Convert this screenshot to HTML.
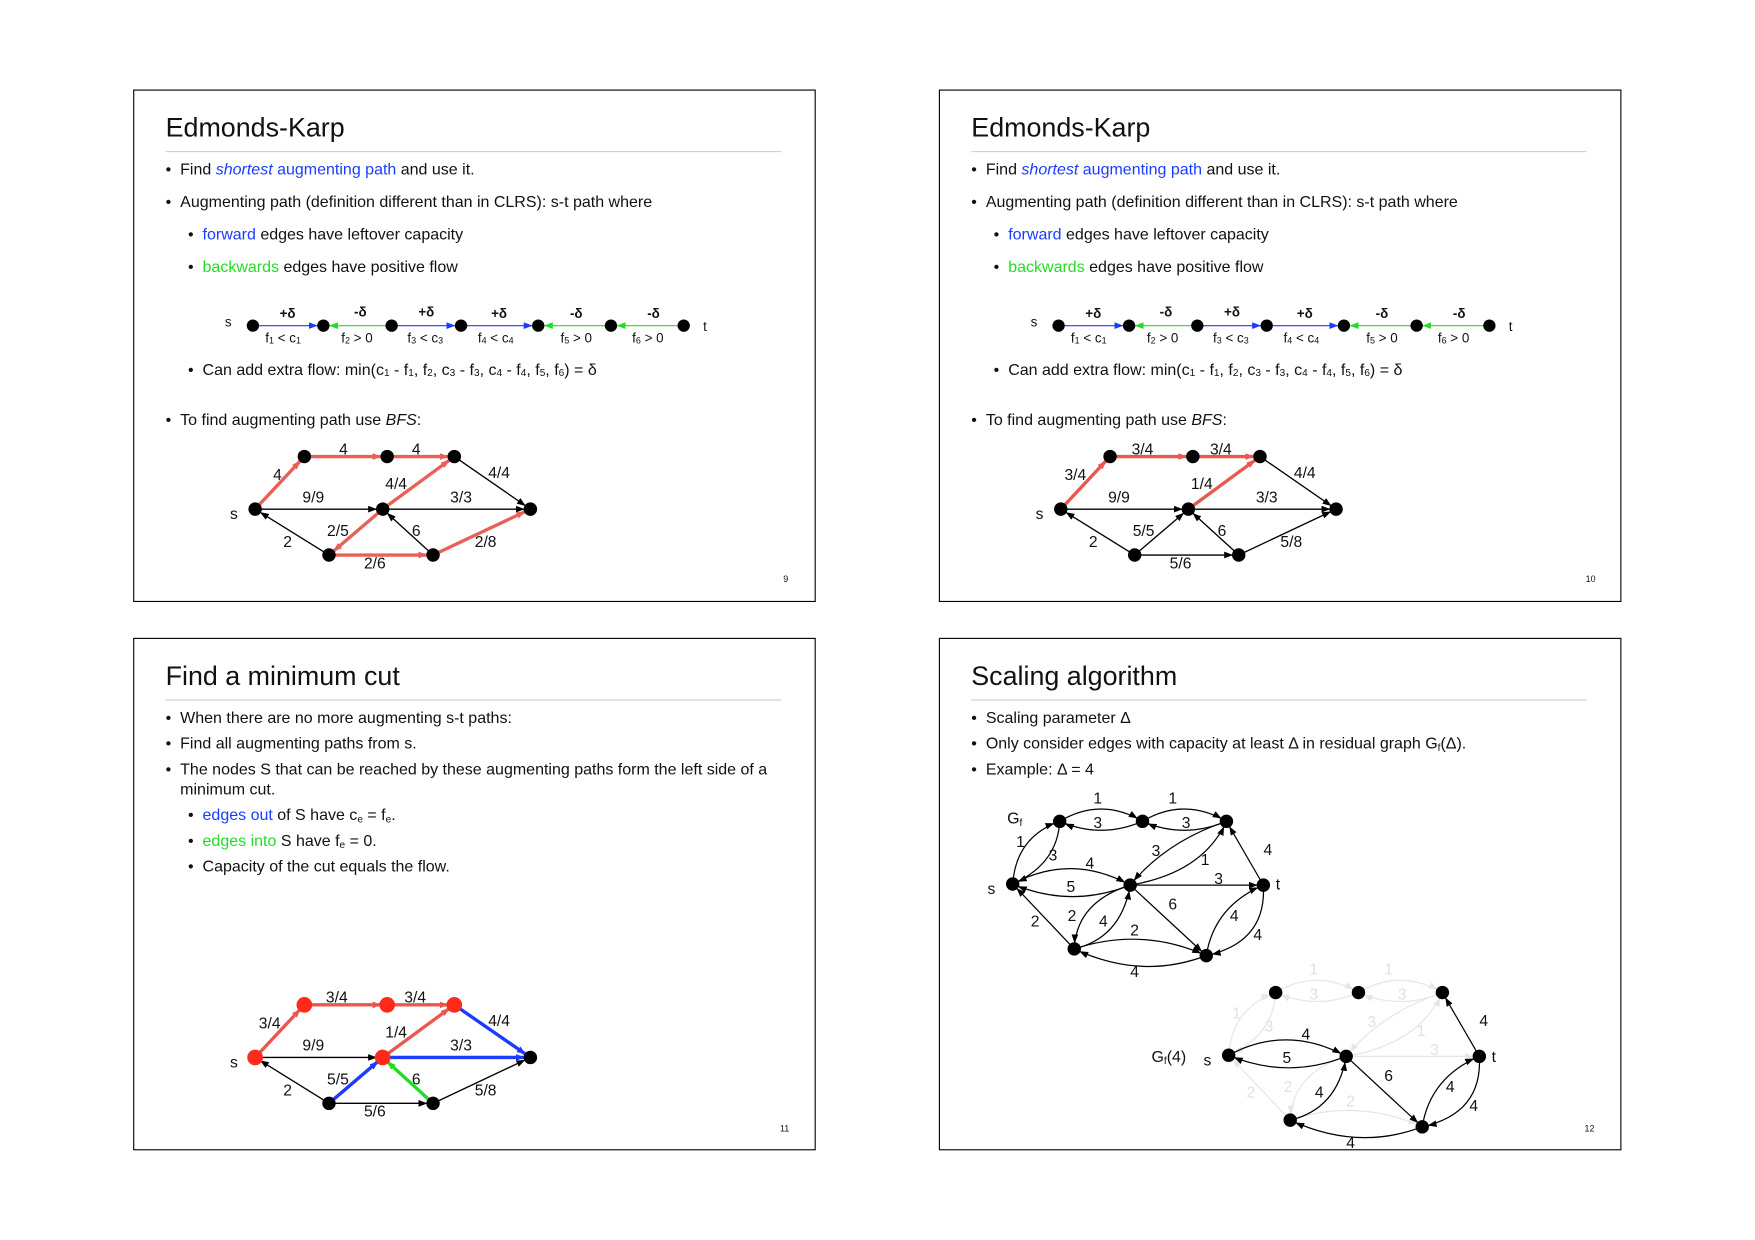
<!DOCTYPE html>
<html><head><meta charset="utf-8"><style>
html,body{margin:0;padding:0;background:#fff;}
#w{width:1560px;height:1102px;transform:scale(1.119);transform-origin:0 0;}
svg text{font-family:"Liberation Sans",sans-serif;fill:#111;}
.t{font-size:24px;}
.b{font-size:14.3px;}
.l{font-size:14px;text-anchor:middle;}
.bl{fill:#1a3cff !important;}
.gr{fill:#22dd22 !important;}
.sm{font-size:12px;text-anchor:middle;}
.pn{font-size:8px;}
.g4 path,.g4 line{stroke:#e6e6e6;}
.g4 text{fill:#e0e0e0;}
</style></head><body><div id="w">
<svg width="1560" height="1102" viewBox="0 0 1560 1102" xmlns="http://www.w3.org/2000/svg">
<defs>
<marker id="ak" markerUnits="userSpaceOnUse" markerWidth="16" markerHeight="8" refX="13" refY="3" orient="auto"><path d="M0,0L8,3L0,6z" fill="#000"/></marker>
<marker id="ar" markerUnits="userSpaceOnUse" markerWidth="16" markerHeight="8" refX="13" refY="3" orient="auto"><path d="M0,0L8,3L0,6z" fill="#e8584f"/></marker>
<marker id="ab" markerUnits="userSpaceOnUse" markerWidth="16" markerHeight="8" refX="13" refY="3" orient="auto"><path d="M0,0L8,3L0,6z" fill="#1a3cff"/></marker>
<marker id="ag" markerUnits="userSpaceOnUse" markerWidth="16" markerHeight="8" refX="13" refY="3" orient="auto"><path d="M0,0L8,3L0,6z" fill="#22dd22"/></marker>
<marker id="aw" markerUnits="userSpaceOnUse" markerWidth="16" markerHeight="8" refX="13" refY="3" orient="auto"><path d="M0,0L8,3L0,6z" fill="#e6e6e6"/></marker>
</defs>

<rect x="119.5" y="80.5" width="609" height="457" fill="none" stroke="#000"/>
<rect x="839.5" y="80.5" width="609" height="457" fill="none" stroke="#000"/>
<rect x="119.5" y="570.5" width="609" height="457" fill="none" stroke="#000"/>
<rect x="839.5" y="570.5" width="609" height="457" fill="none" stroke="#000"/>

<g id="p1">
<text class="t" x="148" y="122">Edmonds-Karp</text>
<line x1="148" y1="135.5" x2="698" y2="135.5" stroke="#ccc"/>
<text class="b" x="148" y="156">•</text><text class="b" x="161" y="156">Find <tspan class="bl" font-style="italic">shortest</tspan><tspan class="bl"> augmenting path</tspan> and use it.</text>
<text class="b" x="148" y="185">•</text><text class="b" x="161" y="185">Augmenting path (definition different than in CLRS): s-t path where</text>
<text class="b" x="168" y="214">•</text><text class="b" x="181" y="214"><tspan class="bl">forward</tspan> edges have leftover capacity</text>
<text class="b" x="168" y="243">•</text><text class="b" x="181" y="243"><tspan class="gr">backwards</tspan> edges have positive flow</text>
<text class="b" x="168" y="335">•</text><text class="b" x="181" y="335">Can add extra flow: min(c<tspan font-size="9" dy="1">1</tspan><tspan dy="-1"> - f</tspan><tspan font-size="9" dy="1">1</tspan><tspan dy="-1">, f</tspan><tspan font-size="9" dy="1">2</tspan><tspan dy="-1">, c</tspan><tspan font-size="9" dy="1">3</tspan><tspan dy="-1"> - f</tspan><tspan font-size="9" dy="1">3</tspan><tspan dy="-1">, c</tspan><tspan font-size="9" dy="1">4</tspan><tspan dy="-1"> - f</tspan><tspan font-size="9" dy="1">4</tspan><tspan dy="-1">, f</tspan><tspan font-size="9" dy="1">5</tspan><tspan dy="-1">, f</tspan><tspan font-size="9" dy="1">6</tspan><tspan dy="-1">) = δ</tspan></text>
<text class="b" x="148" y="380">•</text><text class="b" x="161" y="380">To find augmenting path use <tspan font-style="italic">BFS</tspan>:</text>
<line x1="226" y1="291" x2="289" y2="291" stroke="#1a3cff" marker-end="url(#ab)"/>
<line x1="350" y1="291" x2="289" y2="291" stroke="#22dd22" marker-end="url(#ag)"/>
<line x1="350" y1="291" x2="412" y2="291" stroke="#1a3cff" marker-end="url(#ab)"/>
<line x1="412" y1="291" x2="481" y2="291" stroke="#1a3cff" marker-end="url(#ab)"/>
<line x1="546" y1="291" x2="481" y2="291" stroke="#22dd22" marker-end="url(#ag)"/>
<line x1="611" y1="291" x2="546" y2="291" stroke="#22dd22" marker-end="url(#ag)"/>
<g fill="#000"><circle cx="226" cy="291" r="5.5"/><circle cx="289" cy="291" r="5.5"/><circle cx="350" cy="291" r="5.5"/><circle cx="412" cy="291" r="5.5"/><circle cx="481" cy="291" r="5.5"/><circle cx="546" cy="291" r="5.5"/><circle cx="611" cy="291" r="5.5"/></g>
<text class="sm" x="204" y="292">s</text><text class="sm" x="630" y="296">t</text>
<g font-weight="bold"><text class="sm" x="257" y="284">+δ</text><text class="sm" x="322" y="283">-δ</text><text class="sm" x="381" y="283">+δ</text><text class="sm" x="446" y="284">+δ</text><text class="sm" x="515" y="284">-δ</text><text class="sm" x="584" y="284">-δ</text></g>
<text class="sm" x="253" y="306">f<tspan font-size="8" dy="1">1</tspan><tspan dy="-1"> &lt; c</tspan><tspan font-size="8" dy="1">1</tspan></text>
<text class="sm" x="319" y="306">f<tspan font-size="8" dy="1">2</tspan><tspan dy="-1"> &gt; 0</tspan></text>
<text class="sm" x="380" y="306">f<tspan font-size="8" dy="1">3</tspan><tspan dy="-1"> &lt; c</tspan><tspan font-size="8" dy="1">3</tspan></text>
<text class="sm" x="443" y="306">f<tspan font-size="8" dy="1">4</tspan><tspan dy="-1"> &lt; c</tspan><tspan font-size="8" dy="1">4</tspan></text>
<text class="sm" x="515" y="306">f<tspan font-size="8" dy="1">5</tspan><tspan dy="-1"> &gt; 0</tspan></text>
<text class="sm" x="579" y="306">f<tspan font-size="8" dy="1">6</tspan><tspan dy="-1"> &gt; 0</tspan></text>
</g>
<g transform="translate(720,0)">
<text class="t" x="148" y="122">Edmonds-Karp</text>
<line x1="148" y1="135.5" x2="698" y2="135.5" stroke="#ccc"/>
<text class="b" x="148" y="156">•</text><text class="b" x="161" y="156">Find <tspan class="bl" font-style="italic">shortest</tspan><tspan class="bl"> augmenting path</tspan> and use it.</text>
<text class="b" x="148" y="185">•</text><text class="b" x="161" y="185">Augmenting path (definition different than in CLRS): s-t path where</text>
<text class="b" x="168" y="214">•</text><text class="b" x="181" y="214"><tspan class="bl">forward</tspan> edges have leftover capacity</text>
<text class="b" x="168" y="243">•</text><text class="b" x="181" y="243"><tspan class="gr">backwards</tspan> edges have positive flow</text>
<text class="b" x="168" y="335">•</text><text class="b" x="181" y="335">Can add extra flow: min(c<tspan font-size="9" dy="1">1</tspan><tspan dy="-1"> - f</tspan><tspan font-size="9" dy="1">1</tspan><tspan dy="-1">, f</tspan><tspan font-size="9" dy="1">2</tspan><tspan dy="-1">, c</tspan><tspan font-size="9" dy="1">3</tspan><tspan dy="-1"> - f</tspan><tspan font-size="9" dy="1">3</tspan><tspan dy="-1">, c</tspan><tspan font-size="9" dy="1">4</tspan><tspan dy="-1"> - f</tspan><tspan font-size="9" dy="1">4</tspan><tspan dy="-1">, f</tspan><tspan font-size="9" dy="1">5</tspan><tspan dy="-1">, f</tspan><tspan font-size="9" dy="1">6</tspan><tspan dy="-1">) = δ</tspan></text>
<text class="b" x="148" y="380">•</text><text class="b" x="161" y="380">To find augmenting path use <tspan font-style="italic">BFS</tspan>:</text>
<line x1="226" y1="291" x2="289" y2="291" stroke="#1a3cff" marker-end="url(#ab)"/>
<line x1="350" y1="291" x2="289" y2="291" stroke="#22dd22" marker-end="url(#ag)"/>
<line x1="350" y1="291" x2="412" y2="291" stroke="#1a3cff" marker-end="url(#ab)"/>
<line x1="412" y1="291" x2="481" y2="291" stroke="#1a3cff" marker-end="url(#ab)"/>
<line x1="546" y1="291" x2="481" y2="291" stroke="#22dd22" marker-end="url(#ag)"/>
<line x1="611" y1="291" x2="546" y2="291" stroke="#22dd22" marker-end="url(#ag)"/>
<g fill="#000"><circle cx="226" cy="291" r="5.5"/><circle cx="289" cy="291" r="5.5"/><circle cx="350" cy="291" r="5.5"/><circle cx="412" cy="291" r="5.5"/><circle cx="481" cy="291" r="5.5"/><circle cx="546" cy="291" r="5.5"/><circle cx="611" cy="291" r="5.5"/></g>
<text class="sm" x="204" y="292">s</text><text class="sm" x="630" y="296">t</text>
<g font-weight="bold"><text class="sm" x="257" y="284">+δ</text><text class="sm" x="322" y="283">-δ</text><text class="sm" x="381" y="283">+δ</text><text class="sm" x="446" y="284">+δ</text><text class="sm" x="515" y="284">-δ</text><text class="sm" x="584" y="284">-δ</text></g>
<text class="sm" x="253" y="306">f<tspan font-size="8" dy="1">1</tspan><tspan dy="-1"> &lt; c</tspan><tspan font-size="8" dy="1">1</tspan></text>
<text class="sm" x="319" y="306">f<tspan font-size="8" dy="1">2</tspan><tspan dy="-1"> &gt; 0</tspan></text>
<text class="sm" x="380" y="306">f<tspan font-size="8" dy="1">3</tspan><tspan dy="-1"> &lt; c</tspan><tspan font-size="8" dy="1">3</tspan></text>
<text class="sm" x="443" y="306">f<tspan font-size="8" dy="1">4</tspan><tspan dy="-1"> &lt; c</tspan><tspan font-size="8" dy="1">4</tspan></text>
<text class="sm" x="515" y="306">f<tspan font-size="8" dy="1">5</tspan><tspan dy="-1"> &gt; 0</tspan></text>
<text class="sm" x="579" y="306">f<tspan font-size="8" dy="1">6</tspan><tspan dy="-1"> &gt; 0</tspan></text>
</g>

<g stroke-width="1.2">
<line x1="228" y1="455" x2="342" y2="455" stroke="#000" marker-end="url(#ak)"/>
<line x1="342" y1="455" x2="474" y2="455" stroke="#000" marker-end="url(#ak)"/>
<line x1="406" y1="408" x2="474" y2="455" stroke="#000" marker-end="url(#ak)"/>
<line x1="294" y1="496" x2="228" y2="455" stroke="#000" marker-end="url(#ak)"/>
<line x1="387" y1="496" x2="342" y2="455" stroke="#000" marker-end="url(#ak)"/>
</g>
<g stroke="#e8584f" stroke-width="3" opacity="0.95">
<line x1="228" y1="455" x2="272" y2="408" marker-end="url(#ar)"/>
<line x1="272" y1="408" x2="346" y2="408" marker-end="url(#ar)"/>
<line x1="346" y1="408" x2="406" y2="408" marker-end="url(#ar)"/>
<line x1="342" y1="455" x2="406" y2="408" marker-end="url(#ar)"/>
<line x1="342" y1="455" x2="294" y2="496" marker-end="url(#ar)"/>
<line x1="294" y1="496" x2="387" y2="496" marker-end="url(#ar)"/>
<line x1="387" y1="496" x2="474" y2="455" marker-end="url(#ar)"/>
</g>
<g fill="#000"><circle cx="228" cy="455" r="6"/><circle cx="272" cy="408" r="6"/><circle cx="346" cy="408" r="6"/><circle cx="406" cy="408" r="6"/><circle cx="342" cy="455" r="6"/><circle cx="474" cy="455" r="6"/><circle cx="294" cy="496" r="6"/><circle cx="387" cy="496" r="6"/></g>
<text class="l" x="209" y="464">s</text>
<text class="l" x="248" y="429">4</text><text class="l" x="307" y="406">4</text><text class="l" x="372" y="406">4</text><text class="l" x="446" y="427">4/4</text><text class="l" x="280" y="449">9/9</text><text class="l" x="354" y="437">4/4</text><text class="l" x="412" y="449">3/3</text><text class="l" x="302" y="479">2/5</text><text class="l" x="372" y="479">6</text><text class="l" x="257" y="489">2</text><text class="l" x="434" y="489">2/8</text><text class="l" x="335" y="508">2/6</text>
<text class="pn" x="700" y="520">9</text>

<g transform="translate(720,0)">
<g stroke-width="1.2" stroke="#000">
<line x1="228" y1="455" x2="342" y2="455" marker-end="url(#ak)"/>
<line x1="342" y1="455" x2="474" y2="455" marker-end="url(#ak)"/>
<line x1="406" y1="408" x2="474" y2="455" marker-end="url(#ak)"/>
<line x1="294" y1="496" x2="228" y2="455" marker-end="url(#ak)"/>
<line x1="387" y1="496" x2="342" y2="455" marker-end="url(#ak)"/>
<line x1="294" y1="496" x2="342" y2="455" marker-end="url(#ak)"/>
<line x1="294" y1="496" x2="387" y2="496" marker-end="url(#ak)"/>
<line x1="387" y1="496" x2="474" y2="455" marker-end="url(#ak)"/>
</g>
<g stroke="#e8584f" stroke-width="3">
<line x1="228" y1="455" x2="272" y2="408" marker-end="url(#ar)"/>
<line x1="272" y1="408" x2="346" y2="408" marker-end="url(#ar)"/>
<line x1="346" y1="408" x2="406" y2="408" marker-end="url(#ar)"/>
<line x1="342" y1="455" x2="406" y2="408" marker-end="url(#ar)"/>
</g>
<g fill="#000"><circle cx="228" cy="455" r="6"/><circle cx="272" cy="408" r="6"/><circle cx="346" cy="408" r="6"/><circle cx="406" cy="408" r="6"/><circle cx="342" cy="455" r="6"/><circle cx="474" cy="455" r="6"/><circle cx="294" cy="496" r="6"/><circle cx="387" cy="496" r="6"/></g>
<text class="l" x="209" y="464">s</text>
<text class="l" x="241" y="429">3/4</text><text class="l" x="301" y="406">3/4</text><text class="l" x="371" y="406">3/4</text><text class="l" x="446" y="427">4/4</text><text class="l" x="280" y="449">9/9</text><text class="l" x="354" y="437">1/4</text><text class="l" x="412" y="449">3/3</text><text class="l" x="302" y="479">5/5</text><text class="l" x="372" y="479">6</text><text class="l" x="257" y="489">2</text><text class="l" x="434" y="489">5/8</text><text class="l" x="335" y="508">5/6</text>
<text class="pn" x="697" y="520">10</text>
</g>

<text class="t" x="148" y="612">Find a minimum cut</text>
<line x1="148" y1="625.5" x2="698" y2="625.5" stroke="#ccc"/>
<text class="b" x="148" y="646">•</text><text class="b" x="161" y="646">When there are no more augmenting s-t paths:</text>
<text class="b" x="148" y="669">•</text><text class="b" x="161" y="669">Find all augmenting paths from s.</text>
<text class="b" x="148" y="692">•</text><text class="b" x="161" y="692">The nodes S that can be reached by these augmenting paths form the left side of a</text>
<text class="b" x="161" y="710">minimum cut.</text>
<text class="b" x="168" y="733">•</text><text class="b" x="181" y="733"><tspan class="bl">edges out</tspan> of S have c<tspan font-size="9" dy="2">e</tspan><tspan dy="-2"> = f</tspan><tspan font-size="9" dy="2">e</tspan><tspan dy="-2">.</tspan></text>
<text class="b" x="168" y="756">•</text><text class="b" x="181" y="756"><tspan class="gr">edges into</tspan> S have  f<tspan font-size="9" dy="2">e</tspan><tspan dy="-2"> = 0.</tspan></text>
<text class="b" x="168" y="779">•</text><text class="b" x="181" y="779">Capacity of the cut equals the flow.</text>
<g transform="translate(0,490)">
<g stroke-width="1.2" stroke="#000">
<line x1="228" y1="455" x2="342" y2="455" marker-end="url(#ak)"/>
<line x1="294" y1="496" x2="228" y2="455" marker-end="url(#ak)"/>
<line x1="294" y1="496" x2="387" y2="496" marker-end="url(#ak)"/>
<line x1="387" y1="496" x2="474" y2="455" marker-end="url(#ak)"/>
</g>
<g stroke="#e8584f" stroke-width="3">
<line x1="228" y1="455" x2="272" y2="408" marker-end="url(#ar)"/>
<line x1="272" y1="408" x2="346" y2="408" marker-end="url(#ar)"/>
<line x1="346" y1="408" x2="406" y2="408" marker-end="url(#ar)"/>
<line x1="342" y1="455" x2="406" y2="408" marker-end="url(#ar)"/>
</g>
<g stroke="#1a3cff" stroke-width="3">
<line x1="406" y1="408" x2="474" y2="455" marker-end="url(#ab)"/>
<line x1="342" y1="455" x2="474" y2="455" marker-end="url(#ab)"/>
<line x1="294" y1="496" x2="342" y2="455" marker-end="url(#ab)"/>
</g>
<line x1="387" y1="496" x2="342" y2="455" stroke="#22dd22" stroke-width="3" marker-end="url(#ag)"/>
<g fill="#ff2a1a"><circle cx="228" cy="455" r="7"/><circle cx="272" cy="408" r="7"/><circle cx="346" cy="408" r="7"/><circle cx="406" cy="408" r="7"/><circle cx="342" cy="455" r="7"/></g>
<g fill="#000"><circle cx="474" cy="455" r="6"/><circle cx="294" cy="496" r="6"/><circle cx="387" cy="496" r="6"/></g>
<text class="l" x="209" y="464">s</text>
<text class="l" x="241" y="429">3/4</text><text class="l" x="301" y="406">3/4</text><text class="l" x="371" y="406">3/4</text><text class="l" x="446" y="427">4/4</text><text class="l" x="280" y="449">9/9</text><text class="l" x="354" y="437">1/4</text><text class="l" x="412" y="449">3/3</text><text class="l" x="302" y="479">5/5</text><text class="l" x="372" y="479">6</text><text class="l" x="257" y="489">2</text><text class="l" x="434" y="489">5/8</text><text class="l" x="335" y="508">5/6</text>
</g>
<text class="pn" x="697" y="1011">11</text>

<text class="t" x="868" y="612">Scaling algorithm</text>
<line x1="868" y1="625.5" x2="1418" y2="625.5" stroke="#ccc"/>
<text class="b" x="868" y="646">•</text><text class="b" x="881" y="646">Scaling parameter Δ</text>
<text class="b" x="868" y="669">•</text><text class="b" x="881" y="669">Only consider edges with capacity at least Δ in residual graph G<tspan font-size="9" dy="2">f</tspan><tspan dy="-2">(Δ).</tspan></text>
<text class="b" x="868" y="692">•</text><text class="b" x="881" y="692">Example: Δ = 4</text>

<g fill="none" stroke="#000" stroke-width="1.1">
<path d="M947,734 Q984,712 1021,734" marker-end="url(#ak)"/>
<path d="M1021,734 Q984,750 947,734" marker-end="url(#ak)"/>
<path d="M1021,734 Q1058,712 1096,734" marker-end="url(#ak)"/>
<path d="M1096,734 Q1058,750 1021,734" marker-end="url(#ak)"/>
<path d="M905,790 Q908,748 947,734" marker-end="url(#ak)"/>
<path d="M947,734 Q945,772 905,790" marker-end="url(#ak)"/>
<path d="M905,790 Q957,762 1010,791" marker-end="url(#ak)"/>
<path d="M1010,791 Q957,812 905,790" marker-end="url(#ak)"/>
<path d="M1096,734 Q1042,752 1010,791" marker-end="url(#ak)"/>
<path d="M1010,791 Q1075,780 1096,734" marker-end="url(#ak)"/>
<path d="M1010,791 L1129,791" marker-end="url(#ak)"/>
<path d="M1129,791 L1096,734" marker-end="url(#ak)"/>
<path d="M1010,791 L1078,854" marker-end="url(#ak)"/>
<path d="M960,848 L905,790" marker-end="url(#ak)"/>
<path d="M1010,791 Q962,806 960,848" marker-end="url(#ak)"/>
<path d="M960,848 Q1002,838 1010,791" marker-end="url(#ak)"/>
<path d="M960,848 Q1020,828 1078,854" marker-end="url(#ak)"/>
<path d="M1078,854 Q1020,876 960,848" marker-end="url(#ak)"/>
<path d="M1078,854 Q1085,810 1129,791" marker-end="url(#ak)"/>
<path d="M1129,791 Q1132,842 1078,854" marker-end="url(#ak)"/>
</g>
<g fill="#000"><circle cx="947" cy="734" r="6"/><circle cx="1021" cy="734" r="6"/><circle cx="1096" cy="734" r="6"/><circle cx="905" cy="790" r="6"/><circle cx="1010" cy="791" r="6"/><circle cx="1129" cy="791" r="6"/><circle cx="960" cy="848" r="6"/><circle cx="1078" cy="854" r="6"/></g>
<text class="b" x="900" y="736">G<tspan font-size="9" dy="2">f</tspan></text>
<text class="l" x="886" y="799">s</text><text class="l" x="1142" y="795">t</text>
<text class="l" x="981" y="718">1</text><text class="l" x="981" y="740">3</text><text class="l" x="1048" y="718">1</text><text class="l" x="1060" y="740">3</text>
<text class="l" x="912" y="757">1</text><text class="l" x="941" y="769">3</text><text class="l" x="974" y="776">4</text><text class="l" x="957" y="797">5</text>
<text class="l" x="1033" y="765">3</text><text class="l" x="1077" y="773">1</text><text class="l" x="1089" y="790">3</text><text class="l" x="1133" y="764">4</text>
<text class="l" x="1048" y="813">6</text><text class="l" x="925" y="828">2</text><text class="l" x="958" y="823">2</text><text class="l" x="986" y="828">4</text>
<text class="l" x="1014" y="836">2</text><text class="l" x="1014" y="873">4</text><text class="l" x="1103" y="823">4</text><text class="l" x="1124" y="840">4</text>

<g transform="translate(193,153)">
<g class="g4" fill="none" stroke-width="1.1">
<path d="M947,734 Q984,712 1021,734" marker-end="url(#aw)"/>
<path d="M1021,734 Q984,750 947,734" marker-end="url(#aw)"/>
<path d="M1021,734 Q1058,712 1096,734" marker-end="url(#aw)"/>
<path d="M1096,734 Q1058,750 1021,734" marker-end="url(#aw)"/>
<path d="M905,790 Q908,748 947,734" marker-end="url(#aw)"/>
<path d="M947,734 Q945,772 905,790" marker-end="url(#aw)"/>
<path d="M1096,734 Q1042,752 1010,791" marker-end="url(#aw)"/>
<path d="M1010,791 Q1075,780 1096,734" marker-end="url(#aw)"/>
<path d="M1010,791 L1129,791" marker-end="url(#aw)"/>
<path d="M960,848 L905,790" marker-end="url(#aw)"/>
<path d="M1010,791 Q962,806 960,848" marker-end="url(#aw)"/>
<path d="M960,848 Q1020,828 1078,854" marker-end="url(#aw)"/>
<text class="l" x="981" y="718">1</text><text class="l" x="981" y="740">3</text><text class="l" x="1048" y="718">1</text><text class="l" x="1060" y="740">3</text>
<text class="l" x="912" y="757">1</text><text class="l" x="941" y="769">3</text>
<text class="l" x="1033" y="765">3</text><text class="l" x="1077" y="773">1</text><text class="l" x="1089" y="790">3</text>
<text class="l" x="925" y="828">2</text><text class="l" x="958" y="823">2</text><text class="l" x="1014" y="836">2</text>
</g>
<g fill="none" stroke="#000" stroke-width="1.1">
<path d="M905,790 Q957,762 1010,791" marker-end="url(#ak)"/>
<path d="M1010,791 Q957,812 905,790" marker-end="url(#ak)"/>
<path d="M1129,791 L1096,734" marker-end="url(#ak)"/>
<path d="M1010,791 L1078,854" marker-end="url(#ak)"/>
<path d="M960,848 Q1002,838 1010,791" marker-end="url(#ak)"/>
<path d="M1078,854 Q1020,876 960,848" marker-end="url(#ak)"/>
<path d="M1078,854 Q1085,810 1129,791" marker-end="url(#ak)"/>
<path d="M1129,791 Q1132,842 1078,854" marker-end="url(#ak)"/>
</g>
<g fill="#000"><circle cx="947" cy="734" r="6"/><circle cx="1021" cy="734" r="6"/><circle cx="1096" cy="734" r="6"/><circle cx="905" cy="790" r="6"/><circle cx="1010" cy="791" r="6"/><circle cx="1129" cy="791" r="6"/><circle cx="960" cy="848" r="6"/><circle cx="1078" cy="854" r="6"/></g>
<text class="l" x="886" y="799">s</text><text class="l" x="1142" y="796">t</text>
<text class="l" x="974" y="776">4</text><text class="l" x="957" y="797">5</text><text class="l" x="1133" y="764">4</text>
<text class="l" x="1048" y="813">6</text><text class="l" x="986" y="828">4</text>
<text class="l" x="1014" y="873">4</text><text class="l" x="1103" y="823">4</text><text class="l" x="1124" y="840">4</text>
</g>
<text class="b" x="1029" y="949">G<tspan font-size="9" dy="2">f</tspan><tspan dy="-2">(4)</tspan></text>
<text class="pn" x="1416" y="1011">12</text>
</svg>
</div></body></html>
